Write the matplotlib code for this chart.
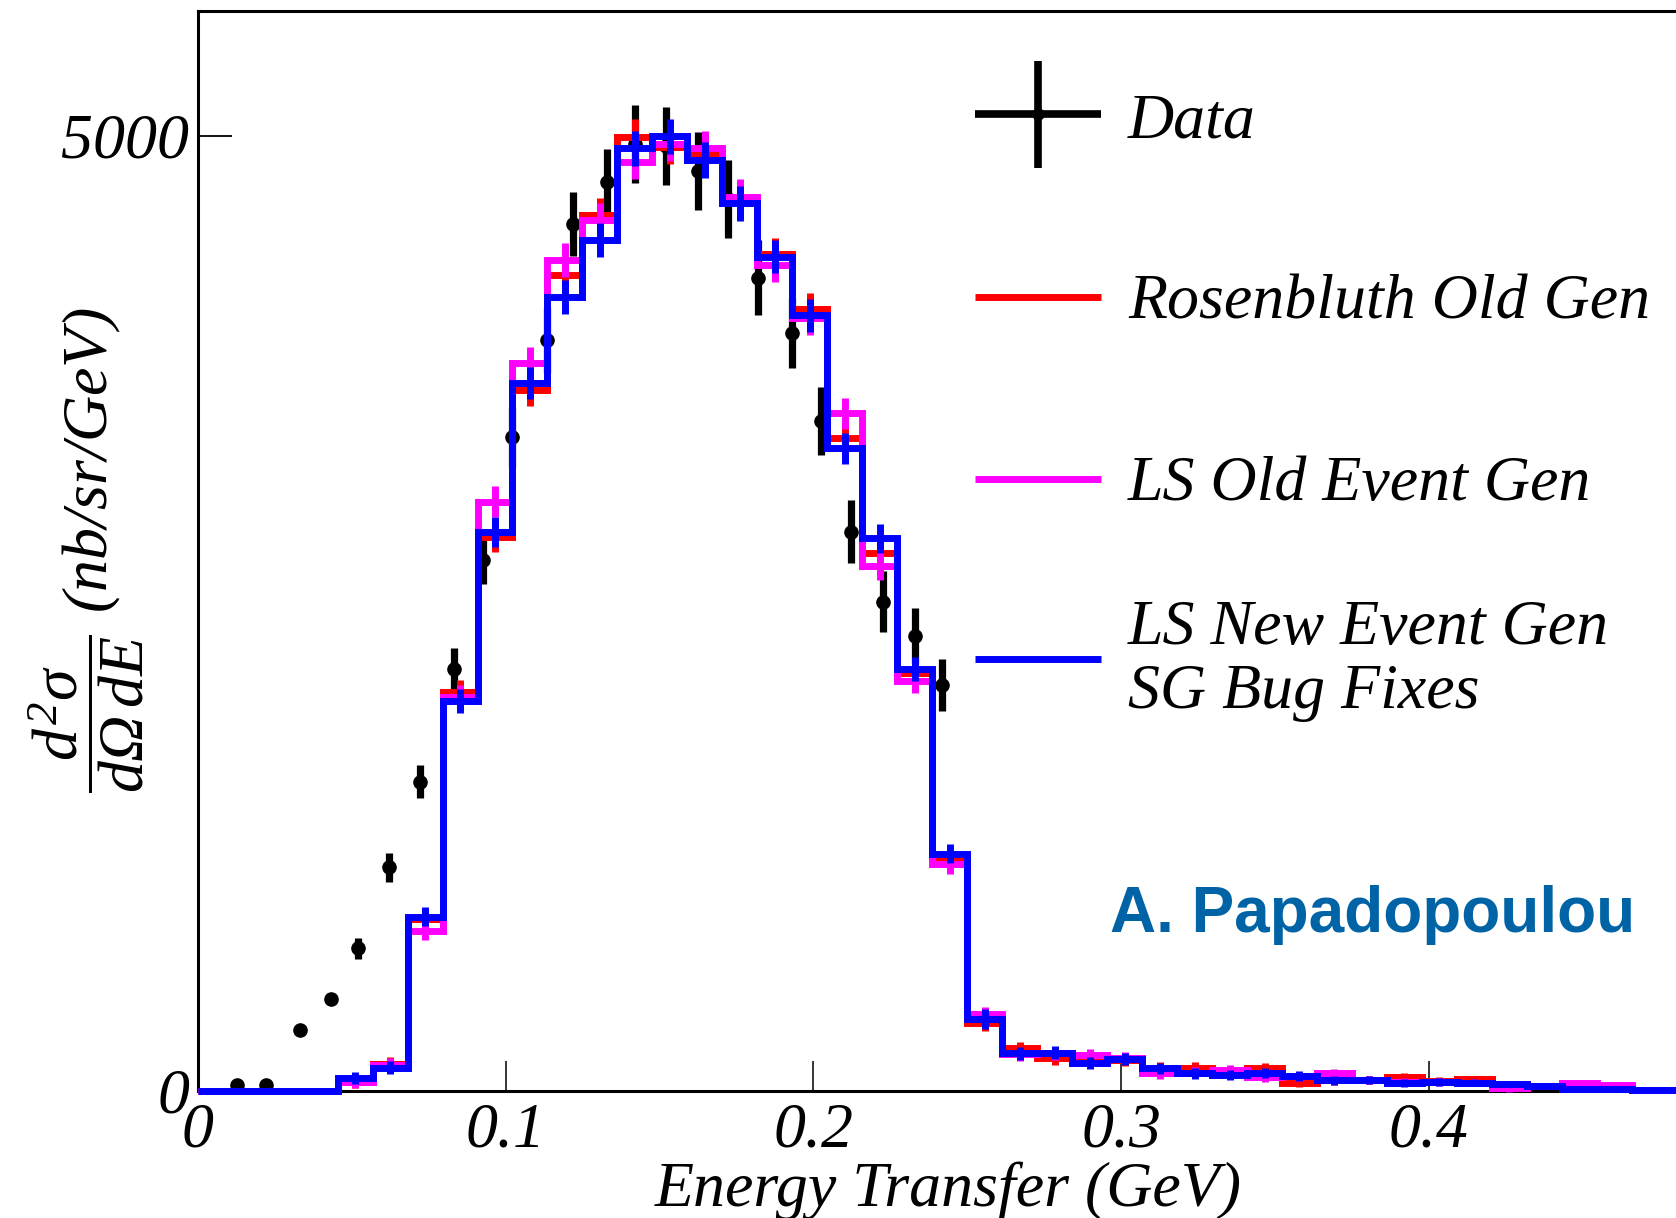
import numpy as np
import matplotlib
matplotlib.use("Agg")
import matplotlib.pyplot as plt
from matplotlib.lines import Line2D

# ---------------- binning of the simulated spectra ----------------
n_bins = 44
e_min, e_max = 0.0, 0.5

# ---------------- simulated cross sections (nb/sr/GeV) ----------------
rosenbluth_old = [0, 0, 0, 0, 45, 140, 900, 2088, 2901, 3670, 4272, 4586,
                  4996, 4944, 4909, 4660, 4380, 4092, 3417, 2816, 2190, 1220,
                  353, 222, 170, 150, 160, 120, 120, 95, 120, 42, 55, 56,
                  73, 50, 60, 35, 25, 10, 9, 5, 3, 3]
rosenbluth_old_err = [0, 0, 0, 0, 30, 35, 50, 65, 80, 85, 88, 90,
                      92, 92, 92, 90, 88, 86, 80, 75, 66, 50,
                      40, 34, 33, 32, 31, 30, 29, 28, 27, 25, 24, 22,
                      21, 20, 19, 17, 16, 14, 13, 12, 11, 10]

ls_old_gen = [0, 0, 0, 0, 45, 135, 838, 2060, 3085, 3809, 4350, 4560,
              4865, 4960, 4935, 4682, 4324, 4045, 3548, 2749, 2148, 1187,
              400, 190, 195, 187, 172, 91, 95, 107, 70, 75, 91, 56,
              45, 47, 42, 12, 25, 39, 31, 6, 4, 3]
ls_old_gen_err = [0, 0, 0, 0, 30, 35, 50, 64, 82, 86, 88, 90,
                  92, 92, 92, 90, 88, 86, 82, 75, 66, 50,
                  40, 34, 33, 32, 31, 30, 29, 28, 27, 25, 24, 22,
                  21, 20, 19, 17, 16, 14, 13, 12, 11, 10]

ls_new_gen = [0, 0, 0, 0, 66, 121, 911, 2041, 2927, 3705, 4158, 4455,
              4935, 4999, 4874, 4647, 4368, 4060, 3364, 2893, 2207, 1242,
              374, 196, 199, 147, 164, 117, 91, 82, 91, 77, 55, 56,
              39, 47, 42, 35, 25, 8, 9, 4, 3, 3]
ls_new_gen_err = [0, 0, 0, 0, 32, 35, 50, 64, 79, 85, 88, 90,
                  92, 92, 92, 90, 88, 86, 80, 75, 64, 50,
                  52, 34, 33, 32, 31, 30, 29, 28, 27, 25, 24, 22,
                  21, 20, 19, 17, 16, 14, 13, 12, 11, 10]

# ---------------- measured points ----------------
data_x = [0.0128, 0.0222, 0.0332, 0.0432, 0.0521, 0.0622, 0.0722, 0.0833,
          0.0927, 0.1021, 0.1135, 0.1220, 0.1330, 0.1421, 0.1522, 0.1626,
          0.1723, 0.1820, 0.1931, 0.2025, 0.2122, 0.2226, 0.2330, 0.2418]
data_y = [30, 30, 318, 480, 746, 1169, 1619, 2207,
          2777, 3425, 3931, 4539, 4761, 4957, 4949, 4818,
          4670, 4258, 3966, 3507, 2928, 2560, 2381, 2125]
data_err = [10, 10, 15, 20, 55, 76, 85, 110,
            125, 157, 170, 170, 170, 205, 205, 205,
            205, 196, 183, 178, 165, 160, 147, 137]

series = [
    ("Rosenbluth Old Gen", rosenbluth_old, rosenbluth_old_err, "#ff0000"),
    ("LS Old Event Gen", ls_old_gen, ls_old_gen_err, "#ff00ff"),
    ("LS New Event Gen\nSG Bug Fixes", ls_new_gen, ls_new_gen_err, "#0000ff"),
]

# ---------------- style ----------------
plt.rcParams["font.family"] = ["Liberation Serif", "DejaVu Serif"]
plt.rcParams["font.style"] = "italic"
plt.rcParams["mathtext.fontset"] = "custom"
plt.rcParams["mathtext.rm"] = "Liberation Serif"
plt.rcParams["mathtext.it"] = "Liberation Serif:italic"

W, H = 1676, 1218
fig = plt.figure(figsize=(W / 100, H / 100), dpi=100)
fig.patch.set_facecolor("white")

ax_left, ax_bottom = 197.7 / W, 1 - 1090.7 / H
ax = fig.add_axes([ax_left, ax_bottom, 1539.0 / W, 1080.0 / H])
ax.set_xlim(e_min, e_max)
ax.set_ylim(0, 5656)

edges = np.linspace(e_min, e_max, n_bins + 1)
centers = 0.5 * (edges[:-1] + edges[1:])

# measured points (drawn underneath the simulation)
ax.errorbar(data_x, data_y, yerr=data_err, fmt="o", color="black",
            ms=9.5, elinewidth=5.2, capsize=0, zorder=2.8, clip_on=False)

hist_lw = 5.0
for i, (label, vals, errs, col) in enumerate(series):
    z = 3 + 0.1 * i
    ax.stairs(vals, edges, baseline=None, color=col, lw=hist_lw,
              joinstyle="miter", zorder=z, clip_on=False)
    ax.errorbar(centers, vals, yerr=errs, fmt="none", ecolor=col,
                elinewidth=hist_lw, capsize=0, zorder=z, clip_on=False)

# ---------------- axes decoration ----------------
for side in ("left", "top", "bottom"):
    ax.spines[side].set_linewidth(2.2)
ax.spines["right"].set_visible(False)
ax.set_axisbelow(True)

ax.set_xticks([0, 0.1, 0.2, 0.3, 0.4])
ax.set_xticklabels(["0", "0.1", "0.2", "0.3", "0.4"])
ax.set_yticks([0, 5000])
ax.set_yticklabels(["0", "5000"])
ax.tick_params(axis="x", direction="in", length=21.6, width=1.1,
               labelsize=46, pad=8.5, top=False)
ax.tick_params(axis="y", direction="in", length=24.5, width=1.3,
               labelsize=46, pad=6, right=False)

ax.set_xlabel("Energy Transfer (GeV)", fontsize=46)
ax.xaxis.label.set_va("baseline")
ax.xaxis.set_label_coords(0.4875, (1090.7 - 1206) / 1080)

ax.set_ylabel(r"$\dfrac{d^{2}\mathrm{\sigma}}{d\mathrm{\Omega}\,dE}$ (nb/sr/GeV)",
              fontsize=46)
ax.yaxis.label.set_va("center")
ax.yaxis.set_label_coords((86 - 197.7) / 1539, (1090.7 - 550) / 1080)

# ---------------- legend ----------------
def ax_fx(px):
    return (px - 197.7) / 1539.0


def ax_fy(py):
    return (1090.7 - py) / 1080.0


key_x0, key_x1, text_x = ax_fx(975), ax_fx(1101), ax_fx(1128)
key_rows = [114, 297, 479, 659]
# baseline of the last line of each label
text_baselines = [137, 318.5, 500, 708.3]

# Data entry: cross with a dot
ky = ax_fy(key_rows[0])
ax.add_line(Line2D([key_x0, key_x1], [ky, ky], transform=ax.transAxes,
                   color="black", lw=5.5, solid_capstyle="butt", clip_on=False))
ax.add_line(Line2D([0.5 * (key_x0 + key_x1)] * 2, [ax_fy(61), ax_fy(168)],
                   transform=ax.transAxes, color="black", lw=5.5,
                   solid_capstyle="butt", clip_on=False))
ax.add_line(Line2D([0.5 * (key_x0 + key_x1)], [ky], transform=ax.transAxes,
                   marker="o", ms=8, color="black", clip_on=False))
ax.text(text_x, ax_fy(text_baselines[0]), "Data", transform=ax.transAxes,
        fontsize=46, va="baseline", ha="left")

for (label, vals, errs, col), row, base in zip(series, key_rows[1:],
                                               text_baselines[1:]):
    ky = ax_fy(row)
    ax.add_line(Line2D([key_x0, key_x1], [ky, ky], transform=ax.transAxes,
                       color=col, lw=5.0, solid_capstyle="butt", clip_on=False))
    ax.text(text_x, ax_fy(base), label, transform=ax.transAxes,
            fontsize=46, va="baseline", ha="left", linespacing=1.137)

# author credit
ax.text(ax_fx(1110), ax_fy(932), "A. Papadopoulou", transform=ax.transAxes,
        fontsize=46, fontweight="bold", fontstyle="normal",
        family="Liberation Sans", color="#0063a6", va="baseline", ha="left")

fig.savefig("out.png", dpi=100, facecolor="white")
